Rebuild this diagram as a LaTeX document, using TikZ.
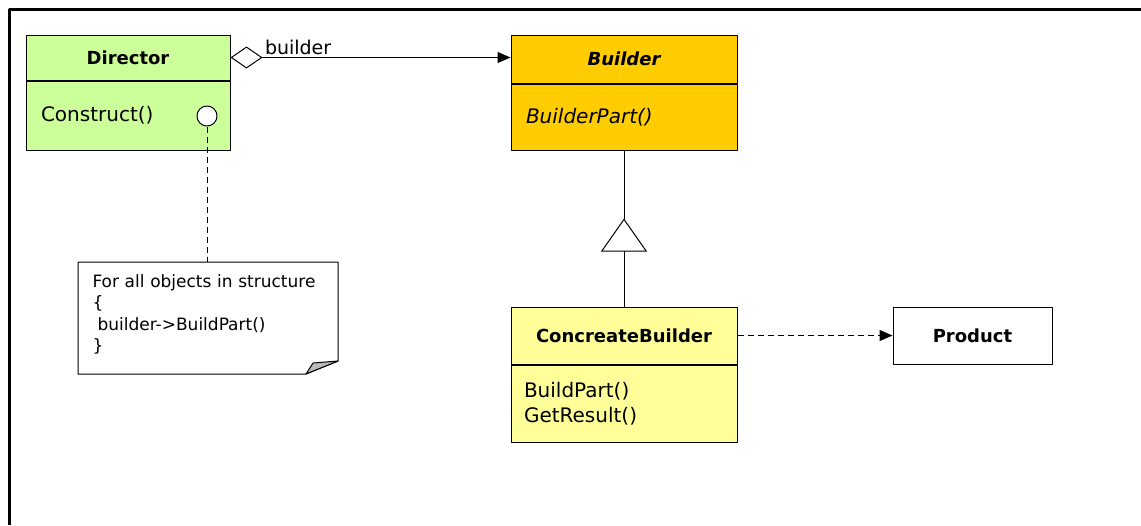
\documentclass[tikz,border=0pt]{standalone}
\usepackage{fontspec}
\setmainfont{DejaVu Sans}
\usetikzlibrary{arrows.meta,positioning}
\definecolor{dirgreen}{RGB}{204,255,153}
\definecolor{bldgold}{RGB}{255,204,0}
\definecolor{cblight}{RGB}{255,255,153}
\begin{document}
\begin{tikzpicture}[x=1pt,y=-1pt, line join=round, line width=1pt, >={Triangle[length=13pt,width=11pt]},
 box/.style={draw, inner sep=0pt, font=\fontsize{20}{25}\selectfont},
 head/.style={box, font=\fontsize{18}{22}\selectfont\bfseries},
 ops/.style={box, anchor=north, inner xsep=15pt, align=left},
 dashy/.style={dash pattern=on 6pt off 4pt}]
 \useasboundingbox (0,0) rectangle (1141,525);
 \draw[line width=3pt] (9,525)--(9,9)--(1141,9);
 % classes
 \node[head, fill=dirgreen, minimum width=204pt, minimum height=45pt] (dir) at (128,57.5) {Director};
 \node[ops, fill=dirgreen, minimum width=204pt, minimum height=69pt, text width=174pt] (dirops) at (dir.south) {Construct()};
 \node[head, fill=bldgold, minimum width=226pt, minimum height=48pt] (bld) at (624,59) {\itshape Builder};
 \node[ops, fill=bldgold, minimum width=226pt, minimum height=66pt, text width=196pt] (bldops) at (bld.south) {\itshape BuilderPart()};
 \node[head, fill=cblight, minimum width=226pt, minimum height=57pt] (cb) at (624,335.5) {ConcreateBuilder};
 \node[ops, fill=cblight, minimum width=226pt, minimum height=77pt, text width=200pt, inner xsep=13pt] (cbops) at (cb.south) {BuildPart()\\GetResult()};
 \node[head, fill=white, minimum width=159pt, minimum height=57pt] (prod) at (972.5,335.5) {Product};
 % note
 \node[circle, draw, fill=white, minimum size=20pt, inner sep=0pt] (hook) at (207,116) {};
 \node[anchor=north west, inner xsep=14pt, inner ysep=12pt, text width=232pt, align=left, font=\fontsize{17}{21.5}\selectfont] (note) at (78,262) {For all objects in structure\\\{\\\hspace{5pt}builder->BuildPart()\\\}};
 \coordinate (nse) at ([xshift=260pt,yshift=-112pt]note.north west);
 \draw (note.north west)--(note.north west -| nse)--([yshift=13pt]nse)--([xshift=-32pt]nse)--(note.north west |- nse)--cycle;
 \draw[fill=gray!55] ([xshift=-32pt]nse)--([yshift=13pt]nse)--([xshift=-25pt,yshift=11pt]nse)--cycle;
 \draw[dashy] (hook.south)--(hook.south |- note.north);
 % relations
 \draw[{Diamond[open,length=32pt,width=22pt]}->] (dir.east)--(dir.east -| bld.west);
 \node[anchor=south west, inner sep=0pt, font=\fontsize{19}{23}\selectfont] (role) at ([xshift=34pt,yshift=2pt]dir.east) {builder};
 \coordinate[below=68pt of bldops.south] (apex);
 \draw[-{Triangle[open,length=33pt,width=46pt]}] (cb.north)--(apex);
 \draw (apex)--(bldops.south);
 \draw[dashy,->] (cb.east)--(prod.west);
\end{tikzpicture}
\end{document}
